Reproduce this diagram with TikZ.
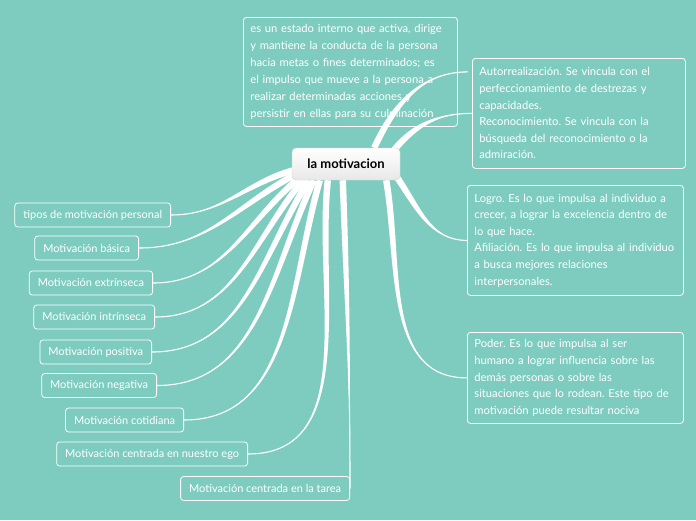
\documentclass[tikz,border=0pt]{standalone}
\usepackage{fontspec}
\setmainfont{Lato}
\usetikzlibrary{backgrounds}
\definecolor{mindteal}{RGB}{126,204,192}
\newcommand\branch[5]{%
  \fill[white] ([shift={#2},shift={(#4+90:3.2)}]#1) to[out=#4,in=#5] (#3)
    to[out=#5,in=#4] ([shift={#2},shift={(#4-90:3.2)}]#1) -- cycle;
  \draw[white, line width=1.1pt] ([shift={#2}]#1) to[out=#4,in=#5] (#3);}

\begin{document}
\frenchspacing
\begin{tikzpicture}[
  x=1pt, y=1pt,
  topic/.style={draw=white, line width=0.8pt, rounded corners=3pt, text=white, font=\fontsize{11}{13}\selectfont, inner xsep=8.5pt, minimum height=24pt, anchor=east},
  note/.style={draw=white, line width=0.8pt, rounded corners=3pt, text=white, font=\fontsize{11.2}{16.6}\selectfont, align=left, inner xsep=7pt, inner ysep=0pt, anchor=north west},
  root/.style={draw=gray!35, rounded corners=4pt, top color=white, bottom color=gray!18, font=\bfseries\fontsize{13}{15}\selectfont, minimum width=108pt, minimum height=32pt}
]
\useasboundingbox (0,0) rectangle (696,-520);
\node[root] (c) at (346,-164) {la motivacion};
\node[note, text width=200pt, minimum height=109pt, font=\fontsize{11.2}{17}\selectfont] (def) at (243,-17) {es un estado interno que activa, dirige\\y mantiene la conducta de la persona\\hacia metas o fines determinados; es\\el impulso que mueve a la persona a\\realizar determinadas acciones y\\persistir en ellas para su culminación};
\node[note, text width=199pt, minimum height=110pt] (auto) at (472,-58) {Autorrealización. Se vincula con el\\perfeccionamiento de destrezas y\\capacidades.\\Reconocimiento. Se vincula con la\\búsqueda del reconocimiento o la\\admiración.};
\node[note, text width=202pt, minimum height=110pt] (logro) at (467,-185) {Logro. Es lo que impulsa al individuo a\\crecer, a lograr la excelencia dentro de\\lo que hace.\\Afiliación. Es lo que impulsa al individuo\\a busca mejores relaciones\\interpersonales.};
\node[note, text width=202pt, minimum height=91pt] (poder) at (467,-332) {Poder. Es lo que impulsa al ser\\humano a lograr influencia sobre las\\demás personas o sobre las\\situaciones que lo rodean. Este tipo de\\motivación puede resultar nociva};
\coordinate (defend) at ([xshift=10pt]def.east);

\node[topic] (tipos) at (171,-215) {tipos de motivación personal};
\node[topic] (basica) at (139,-248) {Motivación básica};
\node[topic] (extr) at (153,-283) {Motivación extrínseca};
\node[topic] (intr) at (155,-317) {Motivación intrínseca};
\node[topic] (posit) at (152,-352) {Motivación positiva};
\node[topic] (negat) at (157,-385.5) {Motivación negativa};
\node[topic] (cotid) at (184,-420) {Motivación cotidiana};
\node[topic] (ego) at (248,-454) {Motivación centrada en nuestro ego};
\node[topic] (tarea) at (350,-488.5) {Motivación centrada en la tarea};

\begin{scope}[on background layer]
\fill[mindteal] (0,0) rectangle (696,-520);
\branch{c.north east}{(-26,0)}{defend}{65}{180}
\branch{c.north east}{(-6,-2)}{auto.west}{50}{180}
\branch{c.south east}{(-4,4)}{logro.west}{-55}{180}
\branch{c.south east}{(-14,0)}{poder.west}{-80}{180}
\branch{c.south west}{(2,10)}{tipos.east}{195}{0}
\branch{c.south west}{(4,6)}{basica.east}{208}{0}
\branch{c.south west}{(8,3)}{extr.east}{220}{0}
\branch{c.south west}{(12,1)}{intr.east}{230}{0}
\branch{c.south west}{(17,0)}{posit.east}{238}{0}
\branch{c.south west}{(22,0)}{negat.east}{245}{0}
\branch{c.south west}{(28,0)}{cotid.east}{254}{0}
\branch{c.south west}{(36,0)}{ego.east}{264}{0}
\branch{c.south west}{(51,0)}{tarea.east}{272}{90}
\end{scope}
\end{tikzpicture}
\end{document}
